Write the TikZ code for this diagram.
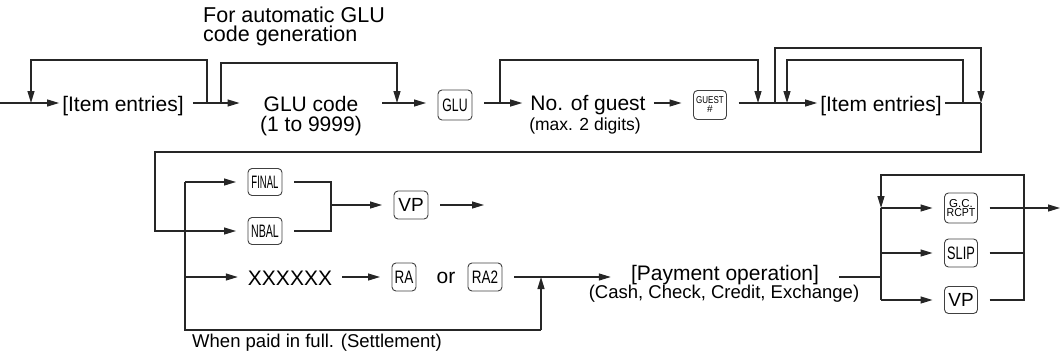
\documentclass[tikz,border=0pt]{standalone}
\usepackage{fontspec}
\setmainfont{Liberation Sans}
\usetikzlibrary{arrows.meta}
\newcommand\keytxt[2]{\scalebox{#1}[1]{#2}}
\begin{document}
\begin{tikzpicture}[x=1pt,y=-1pt,
  line/.style={line width=1.2pt, draw=black!85},
  arr/.style={line, -{Triangle[length=12pt,width=7pt]}},
  txt/.style={inner ysep=0pt, inner xsep=3pt, font=\fontsize{21}{21}\selectfont, anchor=base},
  small/.style={inner sep=0pt, font=\fontsize{18.5}{18.5}\selectfont, anchor=base},
  key/.style={draw=black!75, line width=0.9pt, rounded corners=4pt, inner sep=0pt,
    outer xsep=12pt, outer ysep=0pt, align=center, font=\fontsize{18}{18}\selectfont},
]
\useasboundingbox (0,0) rectangle (1060,357);

% ---------- row 1 ----------
\coordinate (r1) at (0,103);
\coordinate (start) at (0,103);
\node[anchor=north west, align=left, inner sep=0pt, font=\fontsize{21.5}{19}\selectfont] (note) at (203,6.5)
  {For automatic GLU\\code generation};
\node[txt] (ie1) at (123,111) {[Item entries]};
\node[txt, inner xsep=24pt] (gluc) at (311,111) {GLU code};
\node[txt] (glusub) at (311,131) {(1 to 9999)};
\node[key, minimum width=34pt, minimum height=30pt] (glu) at (455,105) {\keytxt{0.68}{GLU}};
\node[txt, inner xsep=8pt] (nog) at (588,110) {No. of guest};
\node[small, font=\fontsize{17.5}{17.5}\selectfont] (nogsub) at (585,130) {(max. 2 digits)};
\node[key, minimum width=33pt, minimum height=29pt, font=\fontsize{10}{10}\selectfont] (guest) at (710,105)
  {\keytxt{0.8}{GUEST}\\[-1pt]\#};
\node[txt] (ie2) at (881,111) {[Item entries]};

\coordinate (c1) at (981,103);
\coordinate (l1a) at (207,103);
\coordinate (l1b) at (31,103);
\coordinate (l2a) at (221,103);
\coordinate (l2b) at (397,103);
\coordinate (l3a) at (500,103);
\coordinate (l3b) at (758,103);
\coordinate (l4a) at (775,103);
\coordinate (l5a) at (963,103);
\coordinate (l5b) at (787,103);
\coordinate (t48) at (0,48);
\coordinate (t60) at (0,60);
\coordinate (t63) at (0,63);

\draw[arr] (start) -- (ie1.west |- r1);
\draw[arr, shorten <=6pt] (ie1.east |- r1) -- (gluc.west |- r1);
\draw[arr] (gluc.east |- r1) -- (glu.west |- r1);
\draw[arr] (glu.east |- r1) -- (nog.west |- r1);
\draw[arr] (nog.east |- r1) -- (guest.west |- r1);
\draw[arr] (guest.east |- r1) -- (ie2.west |- r1);
\draw[line] (ie2.east |- r1) -- (c1);

\draw[arr] (l1a) -- (l1a |- t60) -- (l1b |- t60) -- (l1b);
\draw[arr] (l2a) -- (l2a |- t63) -- (l2b |- t63) -- (l2b);
\draw[arr] (l3a) -- (l3a |- t60) -- (l3b |- t60) -- (l3b);
\draw[arr] (l4a) -- (l4a |- t48) -- (c1 |- t48) -- (c1);
\draw[arr] (l5a) -- (l5a |- t60) -- (l5b |- t60) -- (l5b);

% ---------- row 2 / 3 ----------
\node[key, minimum width=34pt, minimum height=27pt] (final) at (265,182) {\keytxt{0.53}{FINAL}};
\node[key, minimum width=34pt, minimum height=27pt] (nbal) at (265,231) {\keytxt{0.59}{NBAL}};
\node[key, minimum width=34pt, minimum height=28pt, font=\fontsize{19}{19}\selectfont] (vp1) at (411,205) {VP};
\coordinate (vpend) at (484,205);
\coordinate (m1) at (331,205);
\coordinate (r2t) at (155,152);
\coordinate (v1) at (185,182);
\coordinate (bot) at (541,330);
\coordinate (r3) at (0,277);

\node[txt, inner xsep=10pt] (xx) at (290,285) {XXXXXX};
\node[key, minimum width=24pt, minimum height=28pt] (ra) at (404,277) {\keytxt{0.75}{RA}};
\node[txt, inner sep=0pt] (or) at (446,283) {or};
\node[key, minimum width=34pt, minimum height=28pt] (ra2) at (485,277) {\keytxt{0.75}{RA2}};
\node[txt, inner xsep=20pt] (pay) at (725,280) {[Payment operation]};
\node[small] (paysub) at (724,298) {(Cash, Check, Credit, Exchange)};
\node[small] (paid) at (317,347) {When paid in full. (Settlement)};

\draw[arr] (c1) |- (r2t) |- (nbal.west);
\draw[arr] (v1) -- (final.west);
\draw[line] (v1) -- (v1 |- bot) -- (bot);
\draw[arr] (bot) -- (bot |- r3);
\draw[arr] (v1 |- r3) -- (xx.west |- r3);
\draw[line] (final.east) -| (m1);
\draw[line] (nbal.east) -| (m1);
\draw[arr] (m1) -- (vp1.west);
\draw[arr] (vp1.east) -- (vpend);
\draw[arr] (xx.east |- r3) -- (ra.west);
\draw[arr] (ra2.east |- r3) -- (pay.west |- r3);

% ---------- right column ----------
\coordinate (sp) at (881,277);
\coordinate (q1) at (1024,175);
\coordinate (outend) at (1060,208);
\node[key, minimum width=33pt, minimum height=30pt, font=\fontsize{11.5}{9.5}\selectfont] (gc) at (961,208)
  {G.C.\\\keytxt{0.92}{RCPT}};
\node[key, minimum width=33pt, minimum height=28pt] (slip) at (961,253) {\keytxt{0.71}{SLIP}};
\node[key, minimum width=33pt, minimum height=27pt, font=\fontsize{19}{19}\selectfont] (vp2) at (961,300) {VP};

\draw[line] (pay.east |- r3) -- (sp);
\draw[line] (sp |- gc) -- (sp |- vp2);
\draw[arr] (sp |- gc) -- (gc.west);
\draw[arr] (sp |- slip) -- (slip.west);
\draw[arr] (sp |- vp2) -- (vp2.west);
\draw[arr] (gc.east) -- (outend);
\draw[line] (slip.east) -- (slip.east -| q1);
\draw[arr] (vp2.east) -- (vp2.east -| q1) -- (q1) -- (q1 -| sp) -- (sp |- gc);
\end{tikzpicture}
\end{document}
